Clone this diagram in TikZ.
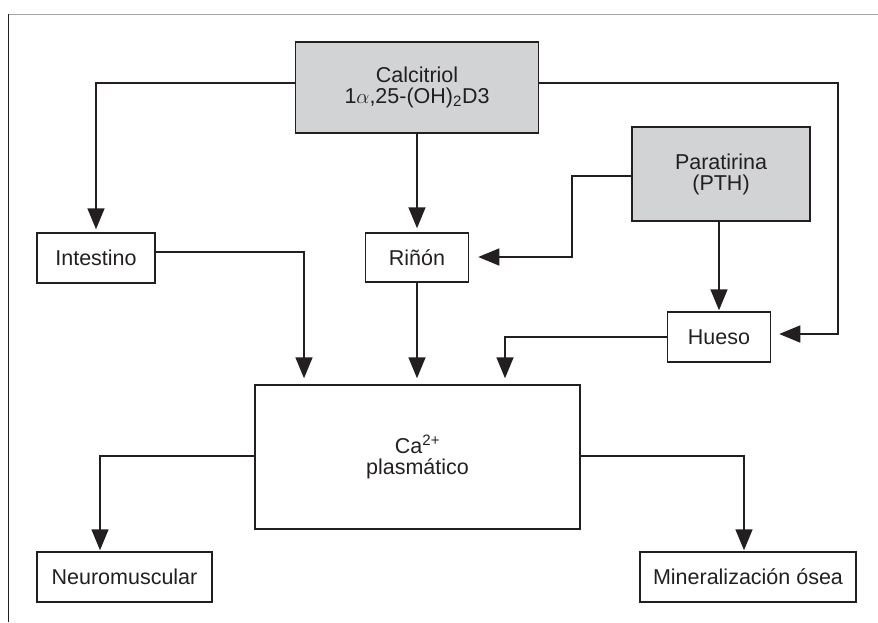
\documentclass[tikz,border=0pt]{standalone}
\usepackage{fontspec}
\setmainfont{Liberation Sans}
\usetikzlibrary{arrows.meta}
\definecolor{ink}{HTML}{231F20}
\definecolor{boxgray}{HTML}{D1D3D4}
\begin{document}
\begin{tikzpicture}[x=1pt,y=-1pt,
  box/.style={draw=ink,line width=1.5pt,rectangle,inner sep=0pt,text=ink,
    font=\fontsize{21.5}{21}\selectfont,align=center},
  graybox/.style={box,fill=boxgray},
  conn/.style={draw=ink,line width=1.6pt,-{Triangle[length=21pt,width=17pt]},shorten >=5pt}]
\useasboundingbox (0,0) rectangle (878,622);
% partial frame
\draw[gray!70,line width=1pt] (8,14) -- (878,14);
\draw[ink,line width=1pt] (8,14) -- (8,622);
% nodes
\node[graybox,minimum width=243pt,minimum height=91pt] (cal) at (417,87.5) {Calcitriol\\1$\alpha$,25-(OH)\textsubscript{2}D3};
\node[graybox,minimum width=178pt,minimum height=94pt] (pth) at (721,174) {Paratirina\\(PTH)};
\node[box,minimum width=118pt,minimum height=50pt] (int) at (96,258) {Intestino};
\node[box,minimum width=103pt,minimum height=49pt] (rin) at (417,257.5) {Riñón};
\node[box,minimum width=103pt,minimum height=50pt] (hue) at (719,337) {Hueso};
\node[box,minimum width=325pt,minimum height=144pt] (ca) at (417.5,457) {Ca\textsuperscript{2+}\\plasmático};
\node[box,minimum width=175pt,minimum height=50pt] (neu) at (124.5,577) {Neuromuscular};
\node[box,minimum width=216pt,minimum height=50pt] (min) at (748,577) {Mineralización ósea};
% helper coordinates
\coordinate (rc) at (838,334);
\coordinate (pk) at (572,257);
\coordinate (ia) at (304,0);
\coordinate (ha) at (505,0);
\coordinate (nk) at (100,0);
\coordinate (mk) at (744,0);
% connectors
\draw[conn,shorten >=3pt] ([yshift=4.5pt]cal.west) -| (int.north);
\draw[conn,shorten >=8pt] ([yshift=4.5pt]cal.east) -| (rc) -- (hue.east |- rc);
\draw[conn,shorten >=4pt] (cal.south) -- (rin.north);
\draw[conn,shorten >=9pt] ([yshift=-2pt]pth.west) -| (pk) -- (rin.east |- pk);
\draw[conn,shorten >=1pt] (pth.south -| hue.north) -- (hue.north);
\draw[conn,shorten >=6pt] ([yshift=6pt]int.east) -| (ca.north -| ia);
\draw[conn,shorten >=6pt] (rin.south) -- (ca.north -| rin.south);
\draw[conn,shorten >=6pt] (hue.west) -| (ca.north -| ha);
\draw[conn,shorten >=1pt] ([yshift=1pt]ca.west) -| (neu.north -| nk);
\draw[conn,shorten >=1pt] ([yshift=1pt]ca.east) -| (min.north -| mk);
\end{tikzpicture}
\end{document}
